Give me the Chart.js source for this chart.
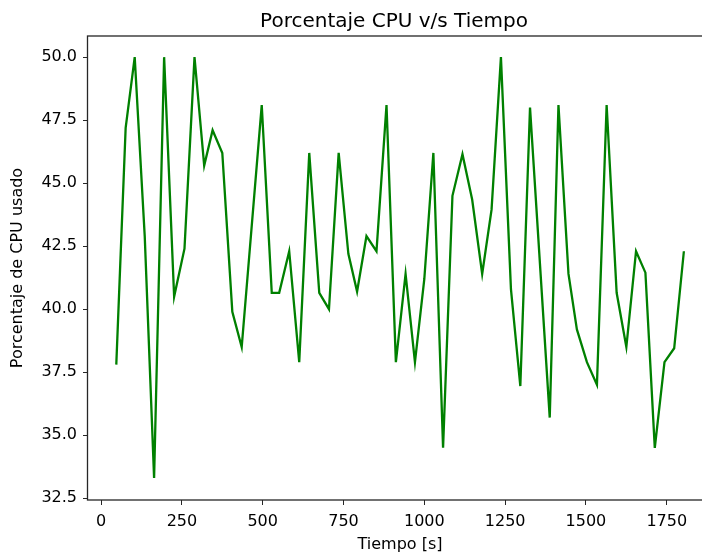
<!DOCTYPE html>
<html>
<head>
<meta charset="utf-8">
<script src="https://cdn.jsdelivr.net/npm/chart.js@4/dist/chart.umd.min.js"></script>
<style>
  html, body { margin: 0; padding: 0; background: #fff; overflow: hidden; }
  #chart { display: block; }
</style>
</head>
<body>
<canvas id="chart" width="713" height="554"></canvas>
<script>
// tiempo (s) y porcentaje de CPU
const tiempos = [47, 76, 104, 135, 164, 195, 226, 258, 289, 319, 345, 375, 406, 435,
  497, 528, 551, 582, 613, 644, 675, 705, 735, 765, 792, 821, 852, 883, 912, 942,
  971, 1000, 1028, 1058, 1087, 1118, 1148, 1179, 1208, 1237, 1268, 1297, 1327, 1388,
  1415, 1446, 1472, 1503, 1534, 1564, 1595, 1625, 1655, 1684, 1713, 1743, 1773, 1803];
const cpu = [37.8, 47.2, 50.0, 42.9, 33.3, 50.0, 40.5, 42.4, 50.0, 45.7, 47.1, 46.2, 39.9, 38.5,
  48.1, 40.65, 40.65, 42.3, 37.9, 46.2, 40.65, 40.0, 46.2, 42.2, 40.7, 42.9, 42.3, 48.1, 37.9, 41.4,
  37.9, 41.2, 46.2, 34.5, 44.5, 46.15, 44.35, 41.4, 43.95, 50.0, 40.8, 36.95, 48.0, 35.7,
  48.1, 41.4, 39.2, 37.9, 37.0, 48.1, 40.65, 38.5, 42.3, 41.45, 34.5, 37.9, 38.45, 42.3];

const xTicks = [0, 250, 500, 750, 1000, 1250, 1500, 1750];
const yTicks = [32.5, 35.0, 37.5, 40.0, 42.5, 45.0, 47.5, 50.0];

const titulo = 'Porcentaje CPU v/s Tiempo';
const FONT = "'DejaVu Sans', sans-serif";
const INK = '#262626';

const marco = {
  id: 'marco',
  afterDraw(chart) {
    const { ctx, chartArea: a } = chart;
    ctx.save();
    ctx.strokeStyle = INK;
    ctx.lineWidth = 1.3;
    ctx.strokeRect(a.left - 0.5, a.top, a.right - a.left + 0.5, a.bottom - a.top);
    ctx.fillStyle = '#000';
    ctx.font = '20px ' + FONT;
    ctx.textAlign = 'center';
    ctx.textBaseline = 'alphabetic';
    ctx.fillText(titulo, 394, 27);
    ctx.restore();
  }
};

new Chart(document.getElementById('chart'), {
  type: 'line',
  data: {
    datasets: [{
      data: tiempos.map((t, i) => ({ x: t, y: cpu[i] })),
      borderColor: '#008000',
      borderWidth: 2.3,
      pointRadius: 0,
      tension: 0,
      fill: false
    }]
  },
  options: {
    responsive: false,
    devicePixelRatio: 1,
    animation: false,
    layout: { padding: { top: 36, right: 1, left: 0, bottom: 0 } },
    plugins: { legend: { display: false }, tooltip: { enabled: false }, title: { display: false } },
    scales: {
      x: {
        type: 'linear',
        min: -40.5,
        max: 1890,
        afterBuildTicks: s => { s.ticks = xTicks.map(v => ({ value: v })); },
        afterFit: s => { s.height = 54; },
        border: { display: false },
        grid: { drawOnChartArea: false, drawTicks: true, tickLength: 5, tickColor: INK },
        ticks: { color: '#000', padding: 7, maxRotation: 0, font: { family: FONT, size: 16 }, callback: v => String(v) },
        title: { display: true, text: 'Tiempo [s]', color: '#000', font: { family: FONT, size: 16, lineHeight: 1 }, padding: { top: 0, bottom: 1 } }
      },
      y: {
        min: 32.43,
        max: 50.84,
        afterBuildTicks: s => { s.ticks = yTicks.map(v => ({ value: v })); },
        afterFit: s => { s.width = 88; },
        border: { display: false },
        grid: { drawOnChartArea: false, drawTicks: true, tickLength: 5, tickColor: INK },
        ticks: { color: '#000', padding: 6, font: { family: FONT, size: 16 }, callback: v => Number(v).toFixed(1) },
        title: { display: true, text: 'Porcentaje de CPU usado', color: '#000', font: { family: FONT, size: 16, lineHeight: 1.2 }, padding: { top: 8, bottom: 0 } }
      }
    }
  },
  plugins: [marco]
});
</script>
</body>
</html>
